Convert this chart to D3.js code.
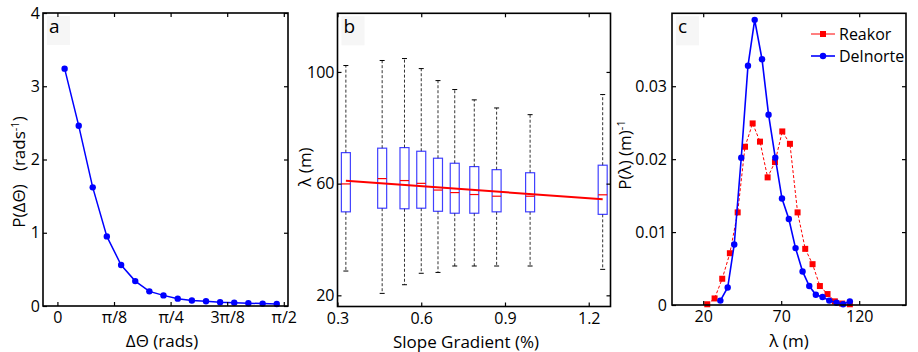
<!DOCTYPE html>
<html><head><meta charset="utf-8">
<script src="https://cdn.jsdelivr.net/npm/d3@7"></script>
<style>
body{margin:0;background:#fff}
text{font-family:"Open Sans",sans-serif;fill:#000}
</style>
</head><body>
<svg id="chart" width="918" height="352"></svg>
<script>
// ---------- Panel a data ----------
const angleX = [0.050, 0.148, 0.245, 0.343, 0.442, 0.540, 0.638, 0.736, 0.835, 0.933, 1.031, 1.129, 1.227, 1.325, 1.424, 1.522];
const angleP = [3.24, 2.46, 1.62, 0.95, 0.56, 0.34, 0.20, 0.145, 0.10, 0.075, 0.065, 0.052, 0.045, 0.038, 0.033, 0.028];
const angleTicks = [0, Math.PI/8, Math.PI/4, 3*Math.PI/8, Math.PI/2];
const angleTickLabels = ["0", "\u03C0/8", "\u03C0/4", "3\u03C0/8", "\u03C0/2"];
const angleYTicks = [0, 1, 2, 3, 4];

// ---------- Panel b data ----------
const slopePos = [0.33, 0.46, 0.54, 0.60, 0.66, 0.72, 0.79, 0.87, 0.99, 1.25];
const boxQ1    = [49.9, 51.2, 51.0, 51.2, 50.1, 49.4, 49.4, 49.9, 49.9, 49.0];
const boxMed   = [59.9, 61.8, 61.1, 60.1, 57.7, 56.8, 56.1, 55.5, 55.5, 56.0];
const boxQ3    = [71.1, 72.7, 72.9, 71.6, 69.1, 67.3, 66.1, 65.0, 63.9, 66.6];
const whiskLo  = [28.7, 20.7, 23.8, 27.9, 28.2, 30.5, 30.5, 30.5, 30.5, 29.3];
const whiskHi  = [102.3, 104.1, 104.8, 101.2, 96.9, 93.7, 90.0, 87.1, 84.7, 91.9];
const trendX = [0.33, 1.25];
const trendY = [61.0, 54.4];
const slopeTicks = [0.3, 0.6, 0.9, 1.2];
const lambdaTicks = [20, 60, 100];

// ---------- Panel c data ----------
const reakorX = [22.6, 27.3, 32.2, 37.1, 42.1, 46.8, 51.7, 56.4, 61.3, 66.0, 70.7, 75.6, 80.5, 85.4, 90.1, 94.8, 99.7, 104.4, 109.1, 114.0];
const reakorP = [0.0001, 0.0009, 0.0036, 0.0071, 0.0127, 0.0217, 0.0249, 0.0224, 0.0175, 0.0196, 0.0238, 0.0221, 0.0127, 0.0077, 0.0056, 0.0026, 0.0015, 0.0005, 0.0002, 0.0001];
const delnorteX = [31.0, 35.7, 39.9, 44.4, 48.7, 53.0, 57.7, 61.9, 66.2, 70.5, 74.9, 79.2, 83.7, 88.0, 92.2, 96.5, 100.8, 105.5, 109.7, 114.0];
const delnorteP = [0.0006, 0.0024, 0.0083, 0.0202, 0.0328, 0.0391, 0.0337, 0.0261, 0.0202, 0.0146, 0.0118, 0.0078, 0.0046, 0.0026, 0.0014, 0.0011, 0.0006, 0.0003, 0.0001, 0.0005];
const lamXTicks = [20, 70, 120];
const probYTicks = [0, 0.01, 0.02, 0.03];
const seriesNames = ["Reakor", "Delnorte"];

const BLUE = "#0000ff", RED = "#ff0000";
const svg = d3.select("#chart");

function frame(g, x, y, xt, xfmt, yt, yfmt, ypad) {
  const [x0, x1] = x.range(), [y0, y1] = y.range();
  const T = 4;
  const bottom = g.append("g").attr("transform", `translate(0,${y0})`)
    .call(d3.axisBottom(x).tickValues(xt).tickFormat(xfmt).tickSizeInner(-T).tickSizeOuter(0).tickPadding(6));
  const top = g.append("g").attr("transform", `translate(0,${y1})`)
    .call(d3.axisTop(x).tickValues(xt).tickFormat("").tickSizeInner(-T).tickSizeOuter(0));
  const left = g.append("g").attr("transform", `translate(${x0},0)`)
    .call(d3.axisLeft(y).tickValues(yt).tickFormat(yfmt).tickSizeInner(-T).tickSizeOuter(0).tickPadding(ypad));
  const right = g.append("g").attr("transform", `translate(${x1},0)`)
    .call(d3.axisRight(y).tickValues(yt).tickFormat("").tickSizeInner(-T).tickSizeOuter(0));
  [bottom, top, left, right].forEach(a => {
    a.select(".domain").remove();
    a.selectAll(".tick line").attr("stroke", "#000").attr("stroke-width", 1.2);
    a.selectAll("text").style("font-size", "16px").style("font-family", '"Open Sans",sans-serif').attr("fill", "#000");
  });
  g.append("rect").attr("x", x0).attr("y", y1).attr("width", x1 - x0).attr("height", y0 - y1)
    .attr("fill", "none").attr("stroke", "#000").attr("stroke-width", 1.6);
}

function panelLetter(g, x, y, letter) {
  const [x0] = x.range(), [, y1] = y.range();
  g.append("rect").attr("x", x0 + 4).attr("y", y1 + 3).attr("width", 23).attr("height", 29).attr("fill", "#f6f6f6");
  g.append("text").attr("x", x0 + 6).attr("y", y1 + 20).style("font-size", "19px").text(letter);
}

// ---------- Panel a ----------
{
  const g = svg.append("g");
  const x = d3.scaleLinear().domain([-0.1, 1.6]).range([43, 288]);
  const y = d3.scaleLinear().domain([0, 4]).range([306, 13]);
  panelLetter(g, x, y, "a");
  const line = d3.line().x((d, i) => x(angleX[i])).y(d => y(d));
  g.append("path").attr("d", line(angleP)).attr("fill", "none").attr("stroke", BLUE).attr("stroke-width", 1.5);
  g.selectAll("circle.pa").data(angleP).join("circle").attr("class", "pa")
    .attr("cx", (d, i) => x(angleX[i])).attr("cy", d => y(d)).attr("r", 3.2).attr("fill", BLUE);
  frame(g, x, y, angleTicks, (d, i) => angleTickLabels[i], angleYTicks, d3.format("d"), 3);
  g.append("text").attr("x", 162).attr("y", 347).attr("text-anchor", "middle").style("font-size", "17px").text("\u0394\u0398 (rads)");
  const yl = g.append("text").attr("transform", "translate(25,172) rotate(-90)").attr("text-anchor", "middle").style("font-size", "17px");
  yl.append("tspan").text("P(\u0394\u0398)\u00A0\u00A0\u00A0(rads");
  yl.append("tspan").attr("dy", -6).style("font-size", "11px").text("-1");
  yl.append("tspan").attr("dy", 6).text(")");
}

// ---------- Panel b ----------
{
  const g = svg.append("g");
  const x = d3.scaleLinear().domain([0.3, 1.278]).range([337.5, 610.5]);
  const y = d3.scaleLinear().domain([16, 121]).range([306.5, 13.3]);
  panelLetter(g, x, y, "b");
  const bw = 9, cap = 2.5;
  const boxes = g.selectAll("g.box").data(slopePos).join("g").attr("class", "box");
  boxes.append("line").attr("x1", d => x(d)).attr("x2", d => x(d))
    .attr("y1", (d, i) => y(boxQ3[i])).attr("y2", (d, i) => y(whiskHi[i]))
    .attr("stroke", "#333").attr("stroke-width", 1).attr("stroke-dasharray", "3,2");
  boxes.append("line").attr("x1", d => x(d)).attr("x2", d => x(d))
    .attr("y1", (d, i) => y(boxQ1[i])).attr("y2", (d, i) => y(whiskLo[i]))
    .attr("stroke", "#333").attr("stroke-width", 1).attr("stroke-dasharray", "3,2");
  boxes.append("line").attr("x1", d => x(d) - cap).attr("x2", d => x(d) + cap)
    .attr("y1", (d, i) => y(whiskHi[i])).attr("y2", (d, i) => y(whiskHi[i])).attr("stroke", "#000").attr("stroke-width", 1);
  boxes.append("line").attr("x1", d => x(d) - cap).attr("x2", d => x(d) + cap)
    .attr("y1", (d, i) => y(whiskLo[i])).attr("y2", (d, i) => y(whiskLo[i])).attr("stroke", "#000").attr("stroke-width", 1);
  boxes.append("rect").attr("x", d => x(d) - bw / 2).attr("width", bw)
    .attr("y", (d, i) => y(boxQ3[i])).attr("height", (d, i) => y(boxQ1[i]) - y(boxQ3[i]))
    .attr("fill", "none").attr("stroke", BLUE).attr("stroke-width", 1.2).attr("stroke-opacity", 0.75);
  boxes.append("line").attr("x1", d => x(d) - bw / 2).attr("x2", d => x(d) + bw / 2)
    .attr("y1", (d, i) => y(boxMed[i])).attr("y2", (d, i) => y(boxMed[i])).attr("stroke", RED).attr("stroke-width", 1.2);
  g.append("line").attr("x1", x(trendX[0])).attr("x2", x(trendX[1])).attr("y1", y(trendY[0])).attr("y2", y(trendY[1]))
    .attr("stroke", RED).attr("stroke-width", 2);
  frame(g, x, y, slopeTicks, d3.format(".1f"), lambdaTicks, d3.format("d"), 3);
  g.append("text").attr("x", 466).attr("y", 348).attr("text-anchor", "middle").style("font-size", "17px").text("Slope Gradient (%)");
  g.append("text").attr("transform", "translate(311,167) rotate(-90)").attr("text-anchor", "middle").style("font-size", "17px").text("\u03BB (m)");
}

// ---------- Panel c ----------
{
  const g = svg.append("g");
  const x = d3.scaleLinear().domain([0, 150]).range([672, 906]);
  const y = d3.scaleLinear().domain([0, 0.04]).range([305, 13.3]);
  panelLetter(g, x, y, "c");
  const line = d3.line();
  const rPts = reakorP.map((d, i) => [x(reakorX[i]), y(d)]);
  const dPts = delnorteP.map((d, i) => [x(delnorteX[i]), y(d)]);
  g.append("path").attr("d", line(rPts)).attr("fill", "none").attr("stroke", RED).attr("stroke-width", 1).attr("stroke-dasharray", "3,2");
  g.selectAll("rect.rk").data(rPts).join("rect").attr("class", "rk")
    .attr("x", d => d[0] - 3).attr("y", d => d[1] - 3).attr("width", 6).attr("height", 6).attr("fill", RED);
  g.append("path").attr("d", line(dPts)).attr("fill", "none").attr("stroke", BLUE).attr("stroke-width", 1.6);
  g.selectAll("circle.dn").data(dPts).join("circle").attr("class", "dn")
    .attr("cx", d => d[0]).attr("cy", d => d[1]).attr("r", 3.2).attr("fill", BLUE);
  frame(g, x, y, lamXTicks, d3.format("d"), probYTicks, d => d === 0 ? "0" : d3.format(".2f")(d), 5);
  // legend
  const lg = g.append("g");
  const ly = [34, 56];
  seriesNames.forEach((name, i) => {
    const col = i === 0 ? RED : BLUE;
    lg.append("line").attr("x1", 811).attr("x2", 835).attr("y1", ly[i]).attr("y2", ly[i]).attr("stroke", col).attr("stroke-width", i === 0 ? 1 : 1.6);
    if (i === 0) lg.append("rect").attr("x", 820).attr("y", ly[i] - 3).attr("width", 6).attr("height", 6).attr("fill", col);
    else lg.append("circle").attr("cx", 823).attr("cy", ly[i]).attr("r", 3.2).attr("fill", col);
    lg.append("text").attr("x", 839).attr("y", ly[i] + 6).style("font-size", "16px").text(name);
  });
  g.append("text").attr("x", 789).attr("y", 347).attr("text-anchor", "middle").style("font-size", "17px").text("\u03BB (m)");
  const yl = g.append("text").attr("transform", "translate(631,155) rotate(-90)").attr("text-anchor", "middle").style("font-size", "17px");
  yl.append("tspan").text("P(\u03BB) (m)");
  yl.append("tspan").attr("dy", -6).style("font-size", "11px").text("-1");
}
</script>
</body></html>
